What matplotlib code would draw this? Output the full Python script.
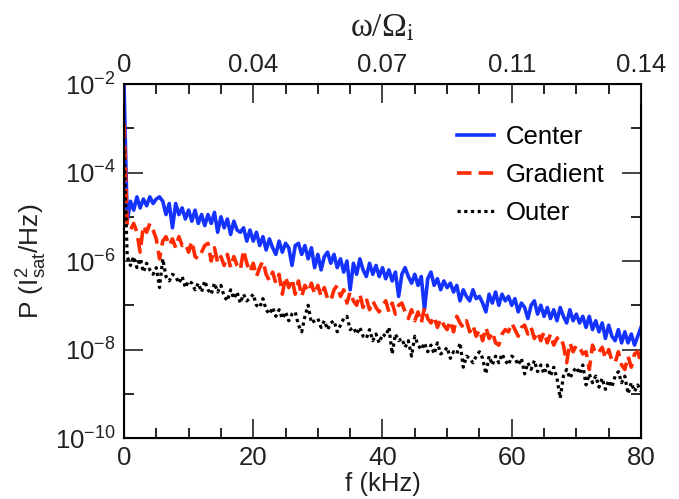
import numpy as np
import matplotlib
matplotlib.use("Agg")
import matplotlib.pyplot as plt
from matplotlib.ticker import FixedLocator, NullFormatter

plt.rcParams['font.family'] = ['Liberation Sans', 'DejaVu Sans']
plt.rcParams['mathtext.fontset'] = 'stix'

# frequency grid (kHz), 0.5 kHz spacing
freq = np.arange(0, 80.01, 0.5)

# log10 of power
center_log = [
    -2.0, -5.1, -4.65, -4.85, -4.55, -4.8, -4.6, -4.75, -4.55, -4.7, -4.6, -4.55, -4.65, -4.95, -4.7, -5.25, -4.7, -4.95, -4.8, -5.05,
    -4.85, -5.1, -4.85, -5.15, -4.95, -5.2, -4.95, -5.15, -4.9, -5.35, -5.0, -5.25, -5.05, -5.4, -5.1, -5.3, -5.35, -5.25, -5.55, -5.3,
    -5.55, -5.35, -5.65, -5.45, -5.75, -5.5, -5.7, -5.85, -5.55, -5.8, -5.6, -5.7, -6.1, -5.65, -5.6, -5.85, -5.65, -5.95, -5.7, -6.15,
    -5.85, -6.2, -5.9, -5.8, -6.05, -5.85, -6.15, -5.95, -6.25, -6.0, -6.65, -6.05, -6.3, -5.95, -6.2, -6.35, -6.05, -6.3, -6.1, -6.35,
    -6.15, -6.4, -6.2, -6.45, -6.25, -6.8, -6.3, -6.15, -6.35, -6.5, -6.3, -6.55, -6.35, -7.1, -6.4, -6.25, -6.55, -6.4, -6.65, -6.45,
    -6.6, -6.5, -6.7, -6.55, -6.9, -6.65, -6.8, -6.9, -6.65, -6.85, -6.8, -6.95, -7.15, -6.75, -6.95, -6.7, -7.0, -6.75, -6.9, -6.8,
    -7.0, -6.85, -7.15, -6.95, -7.05, -7.3, -7.0, -6.9, -7.2, -7.0, -7.25, -7.05, -7.3, -7.1, -7.35, -7.05, -7.25, -7.4, -7.1, -7.35,
    -7.2, -7.4, -7.25, -7.5, -7.25, -7.55, -7.35, -7.6, -7.4, -7.75, -7.45, -7.7, -7.8, -7.55, -7.85, -7.6, -7.85, -7.65, -7.9, -7.7,
    -7.5,
]
gradient_log = [
    -2.9, -5.2, -5.3, -5.15, -5.35, -5.8, -5.2, -5.35, -5.15, -5.3, -5.5, -5.95, -5.55, -5.45, -5.65, -5.5, -5.7, -5.45, -5.65, -5.6,
    -5.8, -5.55, -5.9, -5.95, -5.8, -5.65, -5.6, -6.0, -5.7, -6.05, -5.9, -6.1, -5.85, -6.15, -5.9, -6.1, -6.2, -5.75, -6.05, -6.25,
    -6.05, -6.35, -6.15, -6.0, -6.3, -6.45, -6.25, -6.5, -6.3, -6.75, -6.35, -6.6, -6.4, -6.75, -6.45, -6.8, -6.55, -6.7, -6.5, -6.75,
    -6.55, -6.8, -6.6, -6.85, -6.9, -6.65, -6.55, -6.8, -6.65, -6.95, -6.7, -6.9, -7.0, -6.75, -7.05, -6.85, -7.1, -6.9, -7.05, -7.15,
    -7.0, -6.9, -7.15, -6.95, -7.2, -7.0, -6.95, -7.15, -7.3, -7.1, -7.35, -7.15, -7.4, -7.05, -7.3, -7.4, -7.25, -7.5, -7.3, -7.45,
    -7.55, -7.35, -7.6, -7.25, -7.4, -7.5, -7.35, -7.6, -7.45, -7.7, -7.55, -7.8, -7.5, -7.75, -7.6, -7.85, -7.9, -7.65, -7.55, -7.6,
    -7.4, -7.55, -7.7, -7.5, -7.45, -7.65, -7.5, -7.75, -7.6, -7.8, -7.6, -7.85, -7.65, -7.9, -7.75, -7.7, -7.9, -8.3, -7.85, -8.05,
    -7.9, -7.95, -8.1, -8.05, -8.45, -7.9, -8.1, -8.05, -7.95, -8.2, -8.0, -8.25, -8.3, -8.05, -8.35, -8.45, -8.15, -8.4, -8.1, -8.05,
    -8.3,
]
outer_log = [
    -3.5, -5.9, -6.1, -5.9, -6.15, -5.95, -6.25, -6.05, -6.2, -6.3, -6.15, -6.6, -5.95, -6.35, -6.45, -6.3, -6.35, -6.5, -6.35, -6.6,
    -6.45, -6.5, -6.65, -6.5, -6.7, -6.45, -6.65, -6.75, -6.5, -6.7, -6.55, -6.8, -6.9, -6.65, -6.85, -6.7, -6.95, -6.75, -6.9, -6.85,
    -6.75, -7.0, -7.05, -6.85, -7.1, -7.2, -7.05, -7.25, -7.1, -7.3, -7.15, -7.35, -7.2, -7.15, -7.45, -7.6, -7.25, -7.0, -7.4, -7.35,
    -7.3, -7.5, -7.35, -7.55, -7.4, -7.35, -7.6, -7.45, -7.3, -7.25, -7.55, -7.5, -7.65, -7.5, -7.7, -7.75, -7.55, -7.8, -7.65, -7.85,
    -7.65, -7.7, -7.5, -8.1, -7.65, -7.8, -7.75, -7.95, -7.8, -8.15, -7.7, -7.9, -8.0, -7.85, -8.05, -7.9, -8.1, -7.85, -8.1, -8.05,
    -7.95, -8.2, -8.05, -8.1, -7.85, -8.4, -8.15, -8.2, -8.3, -8.15, -8.05, -8.2, -8.55, -8.15, -8.35, -8.15, -8.3, -8.1, -8.25, -8.35,
    -8.15, -8.2, -8.35, -8.2, -8.55, -8.3, -8.45, -8.25, -8.5, -8.35, -8.55, -8.35, -8.6, -8.4, -8.65, -9.1, -8.6, -8.45, -8.65, -8.5,
    -8.4, -8.55, -8.35, -8.8, -8.55, -8.75, -8.6, -8.85, -8.65, -8.9, -8.7, -8.85, -8.6, -8.5, -8.75, -8.6, -9.0, -8.75, -8.95, -8.8,
    -8.95,
]

labels = ['Center', 'Gradient', 'Outer']
top_ticks = [0, 20, 40, 60, 80]
top_labels = ['0', '0.04', '0.07', '0.11', '0.14']

txt = '#222222'
fig = plt.figure(figsize=(6.79, 4.99), dpi=100)
ax = fig.add_axes([0.1826, 0.1222, 0.7614, 0.7094])

ax.plot(freq, 10 ** np.array(center_log), color='#1433ff', lw=2.6, label=labels[0])
ax.plot(freq, 10 ** np.array(gradient_log), color='#ff2a00', lw=2.6, ls=(0, (4.0, 2.0)), label=labels[1])
ax.plot(freq, 10 ** np.array(outer_log), color='black', lw=2.3, ls=(0, (1, 1.1)), label=labels[2])

ax.set_yscale('log')
ax.set_xlim(0, 80)
ax.set_ylim(1e-10, 1e-2)

ax.yaxis.set_major_locator(FixedLocator([1e-10, 1e-8, 1e-6, 1e-4, 1e-2]))
ax.yaxis.set_minor_locator(FixedLocator([1e-9, 1e-7, 1e-5, 1e-3]))
ax.yaxis.set_minor_formatter(NullFormatter())
ax.set_yticklabels([r'$\mathdefault{10^{-10}}$', r'$\mathdefault{10^{-8}}$', r'$\mathdefault{10^{-6}}$',
                    r'$\mathdefault{10^{-4}}$', r'$\mathdefault{10^{-2}}$'])
ax.set_xticks(top_ticks)
ax.set_xticks(np.arange(0, 81, 5), minor=True)

ax.tick_params(which='major', direction='in', length=14, width=1.2, labelsize=18.5,
               right=True, top=False, pad=6, colors=txt)
ax.tick_params(which='minor', direction='in', length=7, width=1.2, right=True, top=False)
for s in ax.spines.values():
    s.set_linewidth(1.5)

ax2 = ax.twiny()
ax2.set_xlim(0, 80)
ax2.set_xticks(top_ticks)
ax2.set_xticklabels(top_labels)
ax2.set_xticks(np.arange(0, 81, 5), minor=True)
ax2.tick_params(which='major', direction='in', length=14, width=1.2, labelsize=18.5, pad=5, colors=txt)
ax2.tick_params(which='minor', direction='in', length=7, width=1.2)
ax2.set_xlabel('ω/Ω$_{\\mathrm{i}}$', fontsize=24, labelpad=12, color=txt,
               fontfamily=['Liberation Serif', 'DejaVu Serif'])

ax.set_xlabel('f (kHz)', fontsize=18.5, labelpad=1, color=txt)
ax.set_ylabel(r'P (I$\mathdefault{^{2}_{sat}}$/Hz)', fontsize=19, labelpad=4, color=txt)

ax.legend(loc='upper right', bbox_to_anchor=(0.93, 0.885), frameon=False, fontsize=18.5,
          handlelength=1.45, handletextpad=0.45, labelspacing=0.55,
          borderpad=0, borderaxespad=0)

fig.savefig('out.png', dpi=100)
